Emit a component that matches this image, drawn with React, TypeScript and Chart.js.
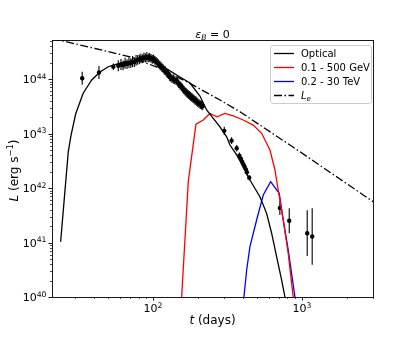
import { useEffect, useRef } from 'react';
import { Chart, registerables } from 'chart.js';

Chart.register(...registerables);

const FONT = '"DejaVu Sans", "Liberation Sans", sans-serif';

const X_MIN = 21;
const X_MAX = 3000;
const Y_MIN = 1e40;
const Y_MAX = 5.2e44;

// Optical model (black)
const optT = [24.0, 27.0, 28.2, 30.3, 34.0, 38.8, 44.1, 50.1, 57.1, 66.6, 77.7, 90.7, 95.5, 111.4, 130.0, 151.8, 177.1, 206.7, 229.3, 254, 281.7, 312.4, 328.8, 364.6, 403.6, 447.7, 522.4, 579.4, 626, 676, 731, 769];
const optL = [1.03e41, 4.6e42, 9.3e42, 2.3e43, 5.5e43, 9.6e43, 1.35e44, 1.68e44, 1.88e44, 2.07e44, 2.23e44, 2.38e44, 2.48e44, 1.85e44, 1.41e44, 1.09e44, 8.45e43, 4.88e43, 2.7e43, 1.9e43, 1.33e43, 8.7e42, 6.15e42, 4.04e42, 2.46e42, 1.4e42, 6.9e41, 3.43e41, 1.48e41, 5.5e40, 2.05e40, 1.0e40];

// 0.1 - 500 GeV (red)
const gevT = [155.8, 172.6, 194.4, 217.6, 241.3, 268.9, 304.2, 345.9, 403.6, 471, 536.5, 610, 659, 693, 749, 809, 874];
const gevL = [1e40, 1.31e42, 1.48e43, 1.77e43, 2.33e43, 2.03e43, 2.33e43, 2.1e43, 1.77e43, 1.43e43, 1.01e43, 4.98e42, 2.14e42, 9.2e41, 2.59e41, 6.3e40, 1.0e40];

// 0.2 - 30 TeV (blue)
const tevT = [408, 425.6, 447.7, 496.5, 550, 616.6, 704, 749, 809, 898];
const tevL = [1e40, 3.13e40, 8.4e40, 2.59e41, 7.45e41, 1.31e42, 8.0e41, 2.59e41, 7.3e40, 1.0e40];

// L_e (dash-dot)
const leT = [21, 25.0, 40.8, 70.1, 111.4, 177.1, 281.7, 383.6, 522, 970, 1799, 3006];
const leL = [5.5e44, 4.98e44, 3.63e44, 2.56e44, 1.57e44, 8.3e43, 4.12e43, 2.51e43, 1.43e43, 4.63e42, 1.46e42, 5.6e41];

// Observed points with errors (dex)
const obsT = [33.5, 43.4, 54.2, 58.5, 61, 63, 65, 67, 69, 71, 73, 75, 77, 79, 81, 83, 85, 87, 89, 91, 93, 95, 97, 99, 101, 103, 105, 107, 109, 111, 113, 115, 117, 119, 121, 123, 125, 127, 129, 131, 134, 137, 140, 143, 146, 149, 152, 155, 158, 161, 164, 167, 170, 173, 176, 179, 182, 185, 188, 191, 194, 197, 200, 204, 208, 212, 216, 301, 337, 365, 380, 390, 398, 405, 412, 420, 427, 443, 711, 822, 1085, 1172];
const obsL = [1.03e44, 1.32e44, 1.68e44, 1.75e44, 1.85e44, 1.78e44, 1.95e44, 1.88e44, 2.0e44, 1.95e44, 2.1e44, 2.05e44, 2.2e44, 2.25e44, 2.3e44, 2.4e44, 2.35e44, 2.5e44, 2.45e44, 2.55e44, 2.45e44, 2.5e44, 2.4e44, 2.3e44, 2.35e44, 2.2e44, 2.1e44, 2.0e44, 1.9e44, 1.8e44, 1.72e44, 1.62e44, 1.55e44, 1.45e44, 1.42e44, 1.32e44, 1.25e44, 1.2e44, 1.12e44, 1.08e44, 1.02e44, 9.8e43, 9.6e43, 9.3e43, 8.8e43, 8.2e43, 7.6e43, 7.2e43, 6.8e43, 6.4e43, 6.0e43, 5.7e43, 5.4e43, 5.2e43, 5.0e43, 4.8e43, 4.6e43, 4.45e43, 4.3e43, 4.1e43, 4.0e43, 3.85e43, 3.7e43, 3.55e43, 3.4e43, 3.3e43, 3.2e43, 1.12e43, 7.4e42, 5.35e42, 3.9e42, 3.4e42, 3.0e42, 2.7e42, 2.45e42, 2.2e42, 1.95e42, 1.55e42, 4.3e41, 2.5e41, 1.48e41, 1.29e41];
const obsErr = [0.12, 0.12, 0.06, 0.1, 0.1, 0.09, 0.1, 0.09, 0.1, 0.09, 0.1, 0.09, 0.1, 0.09, 0.09, 0.09, 0.08, 0.09, 0.08, 0.09, 0.08, 0.08, 0.08, 0.08, 0.08, 0.08, 0.08, 0.08, 0.08, 0.08, 0.08, 0.08, 0.08, 0.08, 0.08, 0.08, 0.08, 0.08, 0.08, 0.08, 0.08, 0.08, 0.08, 0.08, 0.08, 0.08, 0.08, 0.08, 0.08, 0.08, 0.08, 0.08, 0.08, 0.08, 0.08, 0.08, 0.08, 0.08, 0.08, 0.08, 0.08, 0.08, 0.08, 0.08, 0.08, 0.08, 0.08, 0.075, 0.06, 0.06, 0.06, 0.06, 0.06, 0.06, 0.06, 0.06, 0.06, 0.05, 0.13, 0.23, 0.42, 0.52];

// tick decades
const xDecades = [2, 3];
const yDecades = [40, 41, 42, 43, 44];

const seriesLabels = ['Optical', '0.1 - 500 GeV', '0.2 - 30 TeV', 'L_e'];
const seriesColors = ['#000000', '#ff0000', '#0000ff', '#000000'];
const DASHDOT = [8, 2.5, 1.5, 2.5];
const TICK_SIZE = 11;

type Part = { t: string; it?: boolean; sup?: boolean; sub?: boolean };
function fontFor(p: Part, size: number) {
  return `${p.it ? 'italic ' : ''}${p.sup || p.sub ? size * 0.7 : size}px ${FONT}`;
}
function richWidth(ctx: CanvasRenderingContext2D, parts: Part[], size: number) {
  let w = 0;
  for (const p of parts) {
    ctx.font = fontFor(p, size);
    w += ctx.measureText(p.t).width;
  }
  return w;
}
function drawRich(ctx: CanvasRenderingContext2D, parts: Part[], x: number, y: number, size: number, align: string) {
  const w = richWidth(ctx, parts, size);
  let cx = align === 'center' ? x - w / 2 : align === 'right' ? x - w : x;
  ctx.textAlign = 'left';
  ctx.textBaseline = 'alphabetic';
  for (const p of parts) {
    ctx.font = fontFor(p, size);
    const dy = p.sup ? -size * 0.4 : p.sub ? size * 0.22 : 0;
    ctx.fillText(p.t, cx, y + dy);
    cx += ctx.measureText(p.t).width;
  }
}
function powParts(e: number): Part[] {
  return [{ t: '10' }, { t: String(e), sup: true }];
}

const decor = {
  id: 'decor',
  beforeDatasetsDraw(chart: any) {
    const ctx: CanvasRenderingContext2D = chart.ctx;
    const xs = chart.scales.x;
    const ys = chart.scales.y;
    const a = chart.chartArea;
    ctx.save();
    ctx.beginPath();
    ctx.rect(a.left, a.top, a.right - a.left, a.bottom - a.top);
    ctx.clip();
    ctx.strokeStyle = '#000';
    ctx.lineWidth = 1.1;
    obsT.forEach((t, i) => {
      const x = xs.getPixelForValue(t);
      const lo = ys.getPixelForValue(obsL[i] / Math.pow(10, obsErr[i]));
      const hi = ys.getPixelForValue(obsL[i] * Math.pow(10, obsErr[i]));
      ctx.beginPath();
      ctx.moveTo(x, lo);
      ctx.lineTo(x, hi);
      ctx.stroke();
    });
    ctx.restore();
  },
  afterDraw(chart: any) {
    const ctx: CanvasRenderingContext2D = chart.ctx;
    const xs = chart.scales.x;
    const ys = chart.scales.y;
    const a = chart.chartArea;
    ctx.save();
    ctx.fillStyle = '#000';
    ctx.strokeStyle = '#000';
    // ticks
    for (let e = 1; e <= 3; e++) {
      for (let m = 1; m <= 9; m++) {
        const v = m * Math.pow(10, e);
        if (v < X_MIN || v > X_MAX) continue;
        const px = Math.round(xs.getPixelForValue(v)) + 0.5;
        const len = m === 1 ? 3.5 : 2;
        ctx.lineWidth = m === 1 ? 0.9 : 0.7;
        ctx.beginPath();
        ctx.moveTo(px, a.bottom);
        ctx.lineTo(px, a.bottom + len);
        ctx.stroke();
      }
    }
    for (let e = 40; e <= 44; e++) {
      for (let m = 1; m <= 9; m++) {
        const v = m * Math.pow(10, e);
        if (v < Y_MIN * 0.999 || v > Y_MAX) continue;
        const py = Math.round(ys.getPixelForValue(v)) + 0.5;
        const len = m === 1 ? 3.5 : 2;
        ctx.lineWidth = m === 1 ? 0.9 : 0.7;
        ctx.beginPath();
        ctx.moveTo(a.left, py);
        ctx.lineTo(a.left - len, py);
        ctx.stroke();
      }
    }
    // tick labels
    ctx.fillStyle = '#000';
    xDecades.forEach((e) => {
      const px = xs.getPixelForValue(Math.pow(10, e));
      drawRich(ctx, powParts(e), px, a.bottom + 15, TICK_SIZE, 'center');
    });
    yDecades.forEach((e) => {
      const py = ys.getPixelForValue(Math.pow(10, e));
      drawRich(ctx, powParts(e), a.left - 5.5, py + 4, TICK_SIZE, 'right');
    });
    // frame
    ctx.lineWidth = 0.9;
    ctx.strokeRect(Math.round(a.left) + 0.5, Math.round(a.top) + 0.5, Math.round(a.right - a.left), Math.round(a.bottom - a.top));

    // title
    const cxm = (a.left + a.right) / 2;
    drawRich(ctx, [{ t: 'ε', it: true }, { t: 'B', it: true, sub: true }, { t: ' = 0' }], cxm, 37.5, 11, 'center');
    // x label
    drawRich(ctx, [{ t: 't', it: true }, { t: ' (days)' }], cxm, 324, 12, 'center');
    // y label
    ctx.save();
    ctx.translate(17.5, (a.top + a.bottom) / 2 + 2);
    ctx.rotate(-Math.PI / 2);
    drawRich(ctx, [{ t: 'L', it: true }, { t: ' (erg s' }, { t: '−1', sup: true }, { t: ')' }], 0, 0, 12, 'center');
    ctx.restore();

    // legend
    const bx = 270.5, by = 45.5, bw = 101, bh = 58;
    ctx.beginPath();
    (ctx as any).roundRect(bx, by, bw, bh, 2.5);
    ctx.fillStyle = 'rgba(255,255,255,0.8)';
    ctx.fill();
    ctx.strokeStyle = '#cccccc';
    ctx.lineWidth = 1;
    ctx.stroke();
    const rows = [53, 67, 81, 95];
    seriesLabels.forEach((lab, i) => {
      const ry = rows[i];
      ctx.strokeStyle = seriesColors[i];
      ctx.lineWidth = 1.3;
      ctx.setLineDash(i === 3 ? DASHDOT : []);
      ctx.beginPath();
      ctx.moveTo(274, ry + 0.5);
      ctx.lineTo(294, ry + 0.5);
      ctx.stroke();
      ctx.setLineDash([]);
      ctx.fillStyle = '#000';
      const parts: Part[] = lab === 'L_e' ? [{ t: 'L', it: true }, { t: 'e', it: true, sub: true }] : [{ t: lab }];
      drawRich(ctx, parts, 301, ry + 3.7, 10, 'left');
    });
    ctx.restore();
  },
};

function pts(xs: number[], ys: number[]) {
  return xs.map((x, i) => ({ x, y: ys[i] }));
}

export default function App() {
  const ref = useRef<HTMLCanvasElement>(null);
  useEffect(() => {
    document.body.style.margin = '0';
    const lineDs = (label: string, data: any, color: string, dash: number[] = []) => ({
      label,
      data,
      showLine: true,
      borderColor: color,
      backgroundColor: color,
      borderWidth: 1.3,
      borderDash: dash,
      pointRadius: 0,
      tension: 0,
      clip: 0,
    });
    const chart = new Chart(ref.current as HTMLCanvasElement, {
      type: 'scatter',
      data: {
        datasets: [
          lineDs(seriesLabels[0], pts(optT, optL), seriesColors[0]),
          lineDs(seriesLabels[1], pts(gevT, gevL), seriesColors[1]),
          lineDs(seriesLabels[2], pts(tevT, tevL), seriesColors[2]),
          lineDs(seriesLabels[3], pts(leT, leL), seriesColors[3], DASHDOT),
          {
            label: 'data',
            data: pts(obsT, obsL),
            showLine: false,
            pointRadius: 2.2,
            pointBorderWidth: 0,
            backgroundColor: '#000',
            borderColor: '#000',
            clip: 0,
          } as any,
        ],
      },
      options: {
        responsive: false,
        animation: false,
        devicePixelRatio: 1,
        layout: { padding: { left: 0, right: 42, top: 40, bottom: 0 } },
        plugins: {
          legend: { display: false },
          title: { display: false },
          tooltip: { enabled: false },
        },
        scales: {
          x: {
            type: 'logarithmic',
            min: X_MIN,
            max: X_MAX,
            grid: { display: false },
            border: { display: false },
            ticks: { display: false },
            afterFit: (s: any) => {
              s.height = 43;
            },
          },
          y: {
            type: 'logarithmic',
            min: Y_MIN,
            max: Y_MAX,
            grid: { display: false },
            border: { display: false },
            ticks: { display: false },
            afterFit: (s: any) => {
              s.width = 52;
            },
          },
        },
      } as any,
      plugins: [decor],
    });
    return () => chart.destroy();
  }, []);
  return (
    <div style={{ position: 'fixed', left: 0, top: 0, width: 415, height: 340, background: '#fff' }}>
      <canvas ref={ref} width={415} height={340} style={{ display: 'block' }} />
    </div>
  );
}
